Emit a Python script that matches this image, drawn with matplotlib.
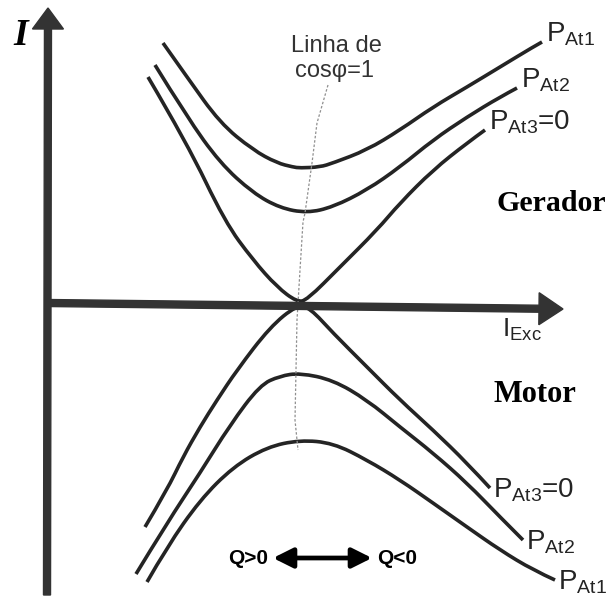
import numpy as np
import matplotlib
matplotlib.use('Agg')
import matplotlib.pyplot as plt
from matplotlib.path import Path
from matplotlib.patches import PathPatch

plt.rcParams['font.family'] = ['Liberation Sans', 'DejaVu Sans']
plt.rcParams['mathtext.fontset'] = 'custom'
plt.rcParams['mathtext.rm'] = 'Liberation Sans'

# V-curves: x = excitation current, y = armature current
# (generator above the axis, motor below), one curve per active power
gen_at1_x = [116, 140, 173, 206, 230, 246, 253, 273, 286, 320, 353, 386, 420, 453, 486, 495]
gen_at1_y = [259, 225, 179, 152, 139, 135, 134, 135, 139, 152, 172, 195, 215, 235, 255, 260]
gen_at2_x = [108, 140, 173, 206, 233, 260, 286, 320, 353, 386, 420, 453, 470]
gen_at2_y = [237, 185, 139, 109, 94, 89, 95, 112, 135, 162, 185, 205, 214]
gen_at3_x = [101, 140, 178, 206, 230, 250, 260, 293, 330, 353, 386, 420, 438]
gen_at3_y = [225, 159, 80, 42, 15, 0, 2, 35, 72, 99, 132, 159, 172]

mot_at1_x = [100, 120, 153, 186, 220, 253, 286, 320, 353, 386, 420, 453, 486, 508]
mot_at1_y = [-280, -245, -198, -165, -145, -138, -141, -158, -178, -201, -225, -248, -268, -278]
mot_at2_x = [89, 120, 153, 183, 213, 233, 253, 286, 320, 353, 386, 420, 453, 476]
mot_at2_y = [-272, -221, -171, -123, -83, -74, -71, -78, -98, -125, -151, -181, -215, -238]
mot_at3_x = [98, 120, 136, 153, 170, 190, 223, 250, 263, 286, 320, 353, 386, 420, 443]
mot_at3_y = [-225, -188, -155, -125, -98, -68, -25, -3, -6, -31, -65, -98, -128, -161, -186]

# unity power factor line
cos1_x = [281, 270, 265, 258, 256, 253, 250, 248, 251]
cos1_y = [217, 179, 139, 89, 80, 32, -18, -118, -148]

curve_labels = [r'$\mathregular{P_{At1}}$', r'$\mathregular{P_{At2}}$', r'$\mathregular{P_{At3}}$=0']

ink = '#242424'

fig = plt.figure(figsize=(6.13, 6.14), dpi=100)
ax = fig.add_axes([0, 0, 1, 1])
ax.set_xlim(-47, 566)
ax.set_ylim(-312, 302)
ax.axis('off')


def draw_curve(xs, ys):
    pts = np.column_stack([xs, ys]).astype(float)
    verts = [pts[0]]
    codes = [Path.MOVETO]
    for i in range(1, len(pts) - 1):
        end = (pts[i] + pts[i + 1]) / 2 if i < len(pts) - 2 else pts[i + 1]
        verts += [pts[i], end]
        codes += [Path.CURVE3, Path.CURVE3]
    ax.add_patch(PathPatch(Path(verts, codes), fill=False, lw=2.6, ec=ink, capstyle='butt'))


# axes
ax.arrow(0, -293, 1, 587, width=7, head_width=31, head_length=21,
         length_includes_head=True, fc='#333333', ec='#333333', zorder=3)
ax.arrow(0, -1, 516, -6, width=7, head_width=32, head_length=24,
         length_includes_head=True, fc='#333333', ec='#333333', zorder=3)

ax.plot(cos1_x, cos1_y, color='#8f8f8f', lw=0.9, ls=(0, (2, 1.5)))

gen = [(gen_at1_x, gen_at1_y), (gen_at2_x, gen_at2_y), (gen_at3_x, gen_at3_y)]
mot = [(mot_at1_x, mot_at1_y), (mot_at2_x, mot_at2_y), (mot_at3_x, mot_at3_y)]
for (xs, ys), lab in zip(gen, curve_labels):
    draw_curve(xs, ys)
    ax.text(xs[-1] + 4, ys[-1], lab, fontsize=20, color=ink, va='baseline', ha='left')
for (xs, ys), lab in zip(mot, curve_labels):
    draw_curve(xs, ys)
    ax.text(xs[-1] + 3, ys[-1] - 10, lab, fontsize=20, color=ink, va='baseline', ha='left')

ax.text(-34, 257, 'I', fontsize=27, family='Liberation Serif', weight='bold',
        style='italic', color='black', va='baseline')
ax.text(455, -35, r'$\mathregular{I_{Exc}}$', fontsize=19, color=ink, va='baseline', ha='left')

ax.text(289, 250, 'Linha de', fontsize=17, color='#333333', ha='center', va='baseline')
ax.text(287, 225, 'cosφ=1', fontsize=17, color='#333333', ha='center', va='baseline')

ax.text(450, 91, 'Gerador', fontsize=21.5, family='Liberation Serif', weight='bold',
        color='black', va='baseline')
ax.text(446, -100, 'Motor', fontsize=22, family='Liberation Serif', weight='bold',
        color='black', va='baseline')

ax.annotate('', xy=(226, -256), xytext=(325, -256),
            arrowprops=dict(arrowstyle='<|-|>', lw=3.4, color='black',
                            mutation_scale=30, shrinkA=0, shrinkB=0))
ax.text(221, -256, 'Q>0', fontsize=15, weight='bold', ha='right', va='center')
ax.text(330, -256, 'Q<0', fontsize=15, weight='bold', ha='left', va='center')

fig.savefig('out.png', dpi=100)
